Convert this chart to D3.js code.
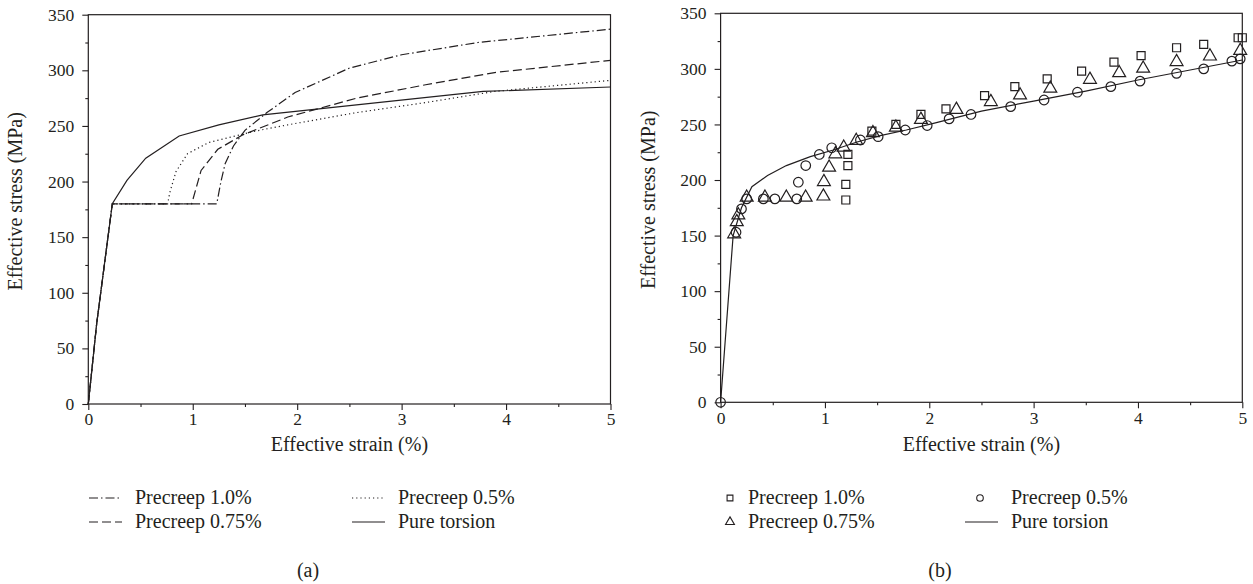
<!DOCTYPE html>
<html>
<head>
<meta charset="utf-8">
<script src="https://cdn.jsdelivr.net/npm/d3@7"></script>
<style>
  body { margin: 0; background: #fff; }
  svg text { font-family: "Liberation Serif", "DejaVu Serif", serif; fill: #231f20; }
</style>
</head>
<body>
<div id="chart"></div>
<script>
// ---- data (strain %, stress MPa) ----
var xTicks = [0, 1, 2, 3, 4, 5];
var yTicks = [0, 50, 100, 150, 200, 250, 300, 350];

// panel (a): simulated curves
var simPure = [[0, 0], [0.08, 72], [0.23, 180], [0.37, 201], [0.55, 221], [0.87, 241], [1.25, 251], [1.67, 260], [3.78, 281], [5, 285]];
var sim100 = [[0, 0], [0.08, 72], [0.23, 180], [1.23, 180], [1.25, 190], [1.27, 200], [1.31, 216], [1.39, 232], [1.5, 246], [1.71, 262], [1.98, 280], [2.5, 302], [3.0, 314], [3.73, 325], [5, 337]];
var sim075 = [[0, 0], [0.08, 72], [0.23, 180], [0.99, 180], [1.02, 190], [1.08, 210], [1.24, 229], [1.48, 242], [1.91, 258], [2.57, 275], [3.23, 287], [3.89, 298], [5, 309]];
var sim050 = [[0, 0], [0.08, 72], [0.23, 180], [0.76, 180], [0.78, 190], [0.84, 209], [0.95, 225], [1.15, 235], [1.58, 245], [1.91, 251], [2.57, 262], [3.23, 271], [3.89, 281], [5, 291]];

// panel (b): experiments + pure torsion line
var expPure = [[0, 0], [0.12, 150], [0.2, 175], [0.3, 194], [0.45, 204], [0.63, 213], [0.86, 221], [1.08, 227], [1.3, 234], [1.53, 240], [1.78, 245], [2.04, 251], [2.5, 262], [3.0, 271], [3.5, 280], [4.0, 290], [4.5, 299], [5.0, 308]];
var exp100 = [[1.2, 182], [1.2, 196], [1.22, 213], [1.22, 223], [1.45, 244], [1.68, 250], [1.92, 259], [2.16, 264], [2.53, 276], [2.82, 284], [3.13, 291], [3.46, 298], [3.77, 306], [4.03, 312], [4.37, 319], [4.63, 322], [4.96, 328], [5.0, 328]];
var exp075 = [[0.13, 150], [0.155, 161], [0.17, 167], [0.25, 183], [0.425, 183], [0.63, 183], [0.815, 183], [0.985, 184], [0.99, 197], [1.04, 210], [1.1, 222], [1.18, 228], [1.3, 234], [1.46, 241], [1.68, 246], [1.92, 253], [2.26, 262], [2.59, 269], [2.87, 275], [3.16, 281], [3.54, 289], [3.82, 295], [4.05, 299], [4.37, 305], [4.69, 310], [4.98, 315]];
var exp050 = [[0, 0], [0.148, 153], [0.2, 174], [0.25, 183], [0.41, 183], [0.52, 183], [0.73, 183], [0.745, 198], [0.816, 213], [0.946, 223], [1.065, 229], [1.34, 236], [1.51, 239], [1.77, 245], [1.98, 249], [2.19, 255], [2.4, 259], [2.78, 266], [3.1, 272], [3.42, 279], [3.74, 284], [4.02, 289], [4.37, 296], [4.63, 300], [4.9, 307], [4.98, 309]];

var ink = "#231f20";
var svg = d3.select("#chart").append("svg").attr("width", 1253).attr("height", 584);

var panelA = { left: 88.3, right: 610.5, top: 14.7, bottom: 404, cx: 308 };
var panelB = { left: 720.6, right: 1242.3, top: 13.3, bottom: 402.3, cx: 940 };

function drawFrame(p, letter) {
  var x = d3.scaleLinear().domain([0, 5]).range([p.left, p.right]);
  var y = d3.scaleLinear().domain([0, 350]).range([p.bottom, p.top]);
  var g = svg.append("g");

  // minor ticks
  g.append("g").attr("transform", `translate(0,${p.bottom})`)
    .call(d3.axisBottom(x).tickValues(d3.range(0.5, 5, 1)).tickSize(3).tickFormat(""))
    .call(s => s.select(".domain").remove());
  g.append("g").attr("transform", `translate(${p.left},0)`)
    .call(d3.axisLeft(y).tickValues(d3.range(25, 350, 50)).tickSize(3).tickFormat(""))
    .call(s => s.select(".domain").remove());

  var xa = g.append("g").attr("transform", `translate(0,${p.bottom})`)
    .call(d3.axisBottom(x).tickValues(xTicks).tickSize(6).tickPadding(3).tickFormat(d3.format("d")));
  var ya = g.append("g").attr("transform", `translate(${p.left},0)`)
    .call(d3.axisLeft(y).tickValues(yTicks).tickSize(6).tickPadding(8));
  [xa, ya].forEach(function (a) {
    a.attr("font-family", null);
    a.select(".domain").remove();
    a.selectAll("text").attr("font-size", 17.5).style("fill", ink);
  });
  g.selectAll(".tick line").attr("stroke", ink).attr("stroke-width", 1.1);

  g.append("rect")
    .attr("x", p.left).attr("y", p.top)
    .attr("width", p.right - p.left).attr("height", p.bottom - p.top)
    .attr("fill", "none").attr("stroke", ink).attr("stroke-width", 1.2);

  g.append("text")
    .attr("x", (p.left + p.right) / 2).attr("y", 451)
    .attr("text-anchor", "middle").attr("font-size", 20)
    .text("Effective strain (%)");
  g.append("text")
    .attr("transform", `translate(${p.left - 66},${(p.top + p.bottom) / 2 - 8}) rotate(-90)`)
    .attr("text-anchor", "middle").attr("font-size", 20)
    .text("Effective stress (MPa)");
  g.append("text")
    .attr("x", p.cx).attr("y", 577)
    .attr("text-anchor", "middle").attr("font-size", 20)
    .text(letter);

  return { x: x, y: y };
}

// ---- panel (a) ----
var sa = drawFrame(panelA, "(a)");
var lineA = d3.line().x(d => sa.x(d[0])).y(d => sa.y(d[1]));
var simSeries = [
  { data: sim050, dash: "1.2,3", label: "Precreep 0.5%" },
  { data: sim100, dash: "9,3,1.5,3", label: "Precreep 1.0%" },
  { data: sim075, dash: "9,4", label: "Precreep 0.75%" },
  { data: simPure, dash: null, label: "Pure torsion" }
];
simSeries.forEach(function (s) {
  svg.append("path").datum(s.data).attr("d", lineA)
    .attr("fill", "none").attr("stroke", ink).attr("stroke-width", 1.2)
    .attr("stroke-dasharray", s.dash);
});

var legA = [
  { s: simSeries[1], x: 89, y: 504 },
  { s: simSeries[2], x: 89, y: 528 },
  { s: simSeries[0], x: 352, y: 504 },
  { s: simSeries[3], x: 352, y: 528 }
];
legA.forEach(function (l) {
  svg.append("line").attr("x1", l.x).attr("x2", l.x + 33)
    .attr("y1", l.y - 6).attr("y2", l.y - 6)
    .attr("stroke", ink).attr("stroke-width", 1.2).attr("stroke-dasharray", l.s.dash);
  svg.append("text").attr("x", l.x + 46).attr("y", l.y).attr("font-size", 20).text(l.s.label);
});

// ---- panel (b) ----
var sb = drawFrame(panelB, "(b)");
var lineB = d3.line().x(d => sb.x(d[0])).y(d => sb.y(d[1]));
svg.append("path").datum(expPure).attr("d", lineB)
  .attr("fill", "none").attr("stroke", ink).attr("stroke-width", 1.2);

var sym = {
  square: d3.symbolSquare,
  triangle: d3.symbolTriangle,
  circle: d3.symbolCircle
};
var symSize = { square: 64, triangle: 72, circle: 72 };
var expSeries = [
  { data: exp100, shape: "square", label: "Precreep 1.0%", dy: 0 },
  { data: exp075, shape: "triangle", label: "Precreep 0.75%", dy: -1.5 },
  { data: exp050, shape: "circle", label: "Precreep 0.5%", dy: 0 }
];
expSeries.forEach(function (s) {
  svg.append("g").selectAll("path").data(s.data).enter().append("path")
    .attr("d", d3.symbol().type(sym[s.shape]).size(symSize[s.shape])())
    .attr("transform", d => `translate(${sb.x(d[0])},${sb.y(d[1]) + s.dy})`)
    .attr("fill", "none").attr("stroke", ink).attr("stroke-width", 1.2);
});

var legB = [
  { shape: "square", label: "Precreep 1.0%", x: 730, tx: 748, y: 504 },
  { shape: "triangle", label: "Precreep 0.75%", x: 730, tx: 748, y: 528 },
  { shape: "circle", label: "Precreep 0.5%", x: 980, tx: 1011, y: 504 },
  { shape: null, label: "Pure torsion", x: 980, tx: 1011, y: 528 }
];
legB.forEach(function (l) {
  if (l.shape) {
    svg.append("path")
      .attr("d", d3.symbol().type(sym[l.shape]).size(34)())
      .attr("transform", `translate(${l.x},${l.y - 6})`)
      .attr("fill", "none").attr("stroke", ink).attr("stroke-width", 1.1);
  } else {
    svg.append("line").attr("x1", 965).attr("x2", 998)
      .attr("y1", l.y - 6).attr("y2", l.y - 6)
      .attr("stroke", ink).attr("stroke-width", 1.2);
  }
  svg.append("text").attr("x", l.tx).attr("y", l.y).attr("font-size", 20).text(l.label);
});
</script>
</body>
</html>
